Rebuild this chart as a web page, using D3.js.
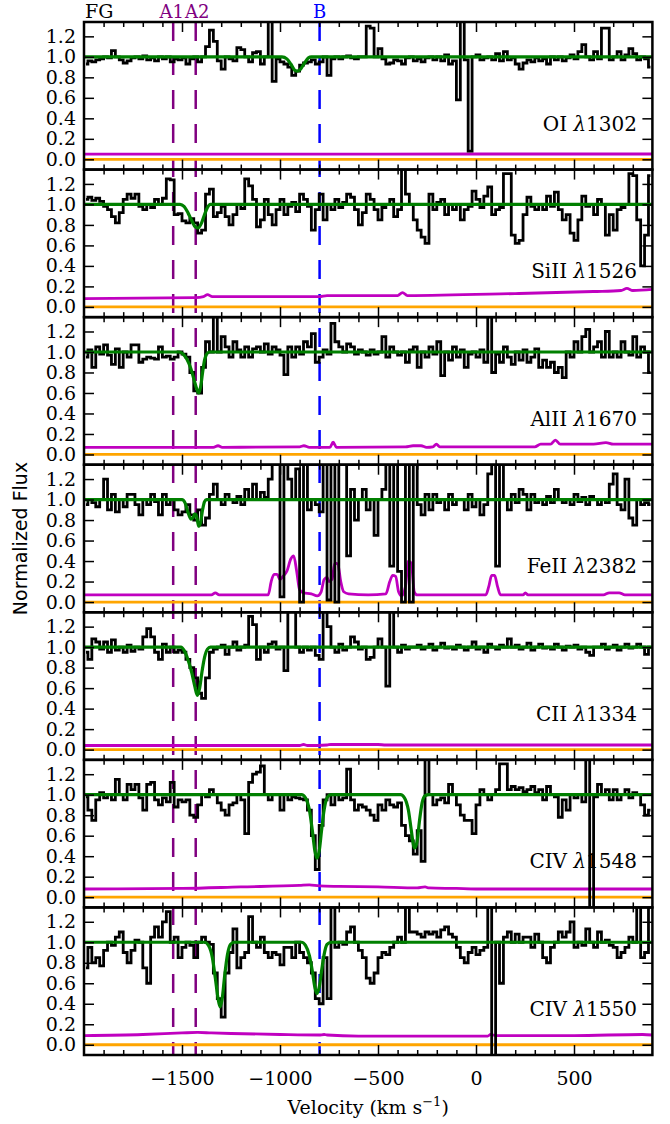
<!DOCTYPE html>
<html><head><meta charset="utf-8">
<script src="https://cdn.jsdelivr.net/npm/d3@7"></script>
<style>body{margin:0;background:#fff}svg{display:block}</style>
</head><body>
<svg id="chart" width="670" height="1124"></svg>
<script>
// ---------------- DATA ----------------
const V_START = -2000, V_STEP = 20;   // velocity grid of the binned spectra (km/s)
const ions = ["OI", "SiII", "AlII", "FeII", "CII", "CIV", "CIV"];
const waves = ["1302", "1526", "1670", "2382", "1334", "1548", "1550"];

const fluxOI = [0.93,0.96,0.95,0.97,0.98, 1.0,0.99,1.06,1.0,0.97, 0.94,0.96,0.99,1.0,0.98, 1.01,0.97,0.99,0.96,1.0,
 0.98,1.0,0.95,0.98,0.97, 0.99,0.93,0.98,1.0,0.95, 1.0,1.1,1.26,1.15,0.96, 0.88,1.0,0.98,0.96,1.09,
 1.07,1.0,0.95,1.04,1.05, 0.93,1.0,1.45,0.76,0.98, 0.95,0.93,0.9,0.82,0.86, 0.92,0.94,0.95,0.97,0.93,
 0.95,1.0,0.82,0.98,1.0, 0.98,1.0,1.01,0.99,0.98, 1.0,1.0,1.3,1.28,1.0, 1.08,0.98,0.93,0.94,0.97,
 0.96,0.93,0.99,1.0,0.96, 0.98,0.95,0.99,1.0,0.97, 1.0,0.96,1.02,0.93,0.96, 0.58,1.45,0.97,0.08,1.0,
 1.02,0.97,0.99,1.0,0.97, 1.03,0.96,1.05,0.97,0.99, 0.93,0.88,0.94,0.97,0.95, 0.99,0.96,0.98,0.93,1.0,
 0.97,1.0,0.96,0.99,1.02, 0.98,1.05,1.12,1.0,0.97, 1.05,0.98,1.28,1.28,0.97, 1.0,1.05,0.97,1.02,1.08,
 1.03,0.97,1.0,0.98,0.9];
const fluxSiII = [1.05,1.07,1.04,1.06,1.03, 0.98,0.95,0.88,0.82,0.92, 1.05,1.1,1.06,1.1,0.98, 0.95,1.0,0.97,1.05,1.0,
 1.06,1.25,1.24,0.9,0.91, 0.84,0.82,0.86,0.82,0.72, 0.75,1.1,1.15,0.88,0.92, 0.98,0.88,0.8,0.9,1.0,
 0.96,1.25,1.18,1.05,0.78, 0.85,1.05,0.9,0.8,0.95, 1.05,0.9,0.98,1.02,0.93, 1.1,1.05,0.98,0.75,0.95,
 1.1,0.85,1.0,0.95,1.05, 0.97,1.02,1.1,1.07,0.95, 0.8,0.92,1.1,1.05,0.95, 0.85,0.97,1.0,1.05,0.88,
 0.95,1.4,1.1,1.0,0.85, 0.75,0.68,0.62,1.1,0.95, 1.02,1.05,0.9,1.0,0.95, 1.0,0.85,0.95,0.98,1.13,
 1.05,0.97,1.08,1.17,0.9, 0.95,0.97,1.3,1.3,0.7, 0.62,0.65,0.9,1.07,0.98, 0.95,1.0,0.95,1.08,0.98,
 1.12,0.95,0.85,0.9,0.72, 0.65,0.85,1.08,0.98,1.0, 0.9,1.05,1.0,0.7,0.9, 0.75,0.95,0.97,1.0,1.3,
 1.28,0.85,0.4,0.7,1.28];
const fluxAlII = [0.95,1.02,0.85,1.05,0.98, 1.07,0.97,0.88,1.03,0.85, 1.0,0.95,1.07,1.07,0.9, 0.93,0.95,0.94,0.93,1.05,
 0.95,0.96,0.93,0.95,1.0, 0.98,0.95,0.8,0.62,0.6, 0.85,1.1,1.0,1.45,1.0, 1.15,1.05,0.95,1.1,1.02,
 0.95,1.05,0.95,1.03,1.05, 1.0,1.08,0.98,1.05,1.02, 0.97,0.78,1.05,0.95,1.05, 0.98,1.1,1.05,1.18,0.9,
 0.95,1.02,0.98,1.28,1.1, 1.05,1.0,1.08,1.05,0.98, 1.02,1.0,0.97,1.02,0.98, 1.0,1.15,0.95,1.05,1.0,
 0.97,1.0,0.9,1.02,1.05, 0.85,1.0,0.95,1.05,0.98, 1.1,0.77,1.0,0.92,1.05, 0.95,1.02,0.85,0.98,1.0,
 0.95,1.02,0.9,1.45,0.8, 0.98,0.9,1.05,0.95,0.88, 1.0,0.92,1.02,0.9,0.95, 1.03,0.85,0.92,0.85,0.9,
 0.8,0.85,0.75,1.0,0.95, 1.1,1.0,1.15,1.22,1.0, 1.05,1.1,0.95,1.2,0.95, 1.0,0.95,1.1,1.0,0.97,
 1.15,0.95,1.05,1.0,0.8];
const fluxFeII = [0.95,1.0,0.97,0.93,1.0, 1.2,0.9,1.05,0.88,1.0, 0.93,1.05,1.05,0.95,0.85, 1.0,0.95,1.05,0.98,0.85,
 1.05,0.95,1.0,0.9,0.85, 0.88,0.95,0.85,0.8,0.9, 0.75,0.82,1.05,1.15,1.0, 0.95,1.05,1.0,0.97,1.03,
 0.95,1.1,1.0,1.15,1.0, 1.07,1.02,1.2,1.45,1.45, 0.05,1.45,1.2,1.0,1.3, 0.0,1.45,0.9,1.0,0.95,
 0.88,1.45,0.02,1.45,0.0, 1.35,1.45,0.45,1.1,0.8, 1.0,1.1,0.9,1.0,0.65, 1.0,1.1,1.45,0.35,1.45,
 0.3,0.0,1.45,0.0,1.45, 0.95,0.85,1.05,0.9,1.05, 0.97,1.0,0.9,1.05,0.95, 1.0,1.0,0.9,1.05,0.93,
 1.0,0.85,0.95,1.25,1.45, 0.35,1.45,1.0,0.9,1.05, 0.97,1.1,1.05,0.9,1.05, 0.97,1.0,0.95,1.03,0.97,
 1.1,1.0,0.97,1.0,0.95, 1.05,0.98,1.02,0.95,1.03, 1.0,0.95,1.0,0.97,1.15, 1.25,0.95,0.9,1.2,0.82,
 0.75,1.0,0.95,0.97,0.95];
const fluxCII = [0.95,0.88,1.08,1.05,0.98, 1.05,0.95,1.07,0.97,1.0, 0.95,1.02,0.96,1.0,0.98, 1.1,1.18,1.1,0.95,0.88,
 1.03,0.95,1.0,0.95,0.97, 0.95,0.88,0.8,0.7,0.55, 0.5,0.7,0.95,0.98,1.0, 1.02,0.93,1.0,1.05,0.97,
 1.0,1.02,1.3,1.22,0.88, 1.0,0.95,1.03,1.05,0.98, 1.0,0.77,1.45,1.45,1.0, 0.95,1.0,0.97,1.0,0.92,
 0.88,1.45,1.2,1.0,0.95, 1.03,0.97,1.0,1.1,1.05, 0.98,1.0,0.88,0.9,1.0, 1.08,1.0,0.62,1.45,1.0,
 0.95,1.02,0.98,1.0,1.0, 1.02,0.98,1.0,1.03,0.97, 1.0,1.04,0.99,1.0,0.98, 1.02,1.0,0.97,1.0,1.05,
 0.98,1.0,0.95,1.03,1.0, 0.98,1.02,1.0,1.08,1.0, 1.02,0.98,1.0,1.04,0.97, 1.0,1.03,0.99,1.0,0.98,
 1.03,1.0,0.97,1.01,1.0, 1.02,0.98,1.0,0.95,0.92, 1.0,1.0,1.03,0.98,1.0, 1.02,0.97,1.0,1.03,0.99,
 1.0,1.03,1.0,0.93,1.0];
const fluxCIV1548 = [0.98,0.85,0.75,0.95,1.02, 0.97,1.0,0.95,1.15,1.0, 0.95,1.1,1.05,1.1,0.97, 0.85,1.1,1.12,0.95,0.9,
 0.97,0.93,1.12,0.88,0.95, 0.93,0.95,0.8,0.78,0.9, 1.0,0.98,1.05,1.0,0.92, 0.85,0.8,0.9,0.92,1.0,
 0.95,0.62,1.12,1.2,1.22, 1.28,1.0,0.95,1.0,1.0, 0.85,1.0,0.95,0.98,0.97, 0.96,0.95,0.85,0.6,0.27,
 0.7,0.95,1.0,0.9,1.0, 0.95,0.97,1.25,0.95,0.85, 0.9,0.88,0.85,0.8,0.75, 0.9,0.85,0.95,0.9,0.88,
 0.92,0.7,0.6,0.55,0.42, 0.65,0.35,1.45,1.0,0.9, 0.95,0.97,0.92,1.1,1.0, 0.9,0.8,0.75,0.75,0.62,
 0.9,1.05,1.0,0.95,1.0, 1.05,1.3,1.3,1.05,1.08, 1.05,1.07,1.03,1.05,1.08, 1.02,1.05,0.95,1.08,1.0,
 0.98,0.78,0.95,0.85,1.0, 0.97,1.0,0.93,1.6,-0.5, 0.98,1.1,1.0,1.05,0.95, 1.05,0.95,1.0,1.05,0.97,
 1.02,1.0,0.9,0.8,0.85];
const fluxCIV1550 = [0.75,0.95,0.8,0.85,0.77, 0.92,1.0,0.97,1.05,1.1, 0.9,0.8,0.92,1.02,1.0, 0.75,0.6,1.05,1.15,1.05,
 1.2,1.3,1.0,1.05,0.85, 0.95,1.0,0.97,0.85,1.0, 1.05,1.0,0.98,0.7,0.45, 0.27,0.7,0.9,1.13,0.75,
 0.85,0.9,1.25,1.0,0.95, 1.05,0.9,0.85,0.9,0.88, 0.78,0.95,0.95,0.85,1.0, 0.9,0.85,0.8,0.7,0.45,
 0.4,0.85,0.45,1.45,0.95, 1.0,0.98,1.1,1.15,1.0, 0.92,0.85,0.65,0.6,0.7, 0.85,0.9,0.88,0.95,1.0,
 1.05,1.0,1.45,1.1,1.1, 1.08,1.05,1.1,1.08,1.1, 1.05,1.12,1.15,1.08,1.05, 0.95,0.85,0.8,0.9,0.95,
 0.88,0.92,0.95,1.6,-0.5, 1.0,0.6,1.05,1.1,1.0, 1.08,1.0,1.05,1.05,0.95, 1.08,1.0,0.85,0.8,0.95,
 1.0,1.1,1.05,1.1,1.2, 0.95,1.0,0.97,1.13,1.0, 0.95,1.1,1.0,1.02,0.97, 0.95,0.85,0.9,0.95,1.05,
 1.0,1.45,0.85,0.9,1.35];

// fitted models: [velocity, normalized flux]
const modelOI = [[-2000,1],[-990,1],[-965,0.98],[-945,0.93],[-925,0.87],[-912,0.86],[-895,0.88],[-875,0.94],[-855,0.99],[-840,1],[900,1]];
const modelSiII = [[-2000,1],[-1510,1],[-1490,0.98],[-1470,0.92],[-1450,0.84],[-1432,0.78],[-1418,0.77],[-1400,0.82],[-1385,0.9],[-1370,0.97],[-1355,1],[900,1]];
const modelAlII = [[-2000,1],[-1515,1],[-1495,0.98],[-1475,0.93],[-1455,0.84],[-1440,0.74],[-1425,0.64],[-1415,0.6],[-1405,0.66],[-1395,0.8],[-1385,0.92],[-1370,0.99],[-1360,1],[900,1]];
const modelFeII = [[-2000,1],[-1500,1],[-1485,0.97],[-1470,0.88],[-1455,0.81],[-1445,0.82],[-1435,0.86],[-1428,0.85],[-1420,0.78],[-1414,0.74],[-1405,0.78],[-1395,0.9],[-1385,0.98],[-1375,1],[900,1]];
const modelCII = [[-2000,1],[-1505,1],[-1490,0.97],[-1470,0.88],[-1450,0.75],[-1435,0.62],[-1422,0.53],[-1410,0.6],[-1398,0.76],[-1385,0.9],[-1370,0.98],[-1355,1],[900,1]];
const modelCIV1548 = [[-2000,1],[-890,1],[-870,0.97],[-850,0.85],[-835,0.65],[-822,0.45],[-812,0.38],[-800,0.45],[-788,0.65],[-775,0.85],[-760,0.97],[-740,1],
 [-385,1],[-365,0.97],[-345,0.85],[-330,0.65],[-318,0.5],[-312,0.48],[-300,0.55],[-288,0.75],[-275,0.92],[-260,0.99],[-240,1],[900,1]];
const modelCIV1550 = [[-2000,1],[-1385,1],[-1365,0.97],[-1345,0.85],[-1330,0.65],[-1316,0.45],[-1306,0.37],[-1295,0.45],[-1282,0.68],[-1268,0.88],[-1252,0.98],[-1235,1],
 [-890,1],[-870,0.97],[-850,0.87],[-835,0.72],[-822,0.56],[-812,0.5],[-800,0.56],[-788,0.72],[-775,0.88],[-760,0.98],[-740,1],[900,1]];

// error spectra: [velocity, sigma]
const errOI = [[-2000,0.05],[-1000,0.05],[0,0.052],[900,0.052]];
const errSiII = [[-2000,0.08],[-1430,0.09],[-1390,0.1],[-1370,0.12],[-1345,0.1],[-800,0.1],[-760,0.11],[-400,0.11],[-375,0.14],[-350,0.11],[200,0.13],[600,0.15],[740,0.16],[770,0.18],[800,0.16],[900,0.17]];
const errAlII = [[-2000,0.07],[-1340,0.07],[-1316,0.085],[-1295,0.07],[-900,0.075],[-878,0.085],[-850,0.07],[-745,0.07],[-729,0.12],[-712,0.07],[-360,0.075],[-321,0.085],[-280,0.085],[-252,0.07],[-220,0.075],[-202,0.1],[-185,0.075],[300,0.075],[330,0.1],[380,0.1],[405,0.14],[430,0.1],[600,0.1],[663,0.115],[700,0.1],[900,0.1]];
const errFeII = [[-2000,0.07],[-1350,0.07],[-1330,0.09],[-1310,0.07],[-1060,0.07],[-1045,0.2],[-1030,0.27],[-1015,0.27],[-1000,0.22],[-985,0.25],[-965,0.3],[-945,0.42],[-930,0.45],[-915,0.3],[-900,0.12],[-880,0.09],[-840,0.08],[-810,0.06],[-790,0.1],[-775,0.22],[-760,0.24],[-750,0.2],[-735,0.22],[-720,0.38],[-705,0.37],[-690,0.2],[-675,0.1],[-650,0.08],[-550,0.07],[-460,0.08],[-440,0.2],[-425,0.26],[-410,0.25],[-395,0.1],[-380,0.06],[-360,0.15],[-345,0.4],[-330,0.38],[-315,0.1],[-300,0.07],[50,0.07],[65,0.15],[80,0.26],[95,0.26],[110,0.15],[125,0.07],[240,0.07],[252,0.09],[265,0.07],[650,0.07],[680,0.09],[730,0.09],[760,0.07],[900,0.07]];
const errCII = [[-2000,0.04],[-900,0.04],[-880,0.05],[-860,0.04],[-760,0.045],[-740,0.05],[-500,0.05],[-460,0.045],[900,0.045]];
const errCIV1548 = [[-2000,0.08],[-1500,0.085],[-1200,0.1],[-900,0.115],[-850,0.12],[-800,0.11],[-700,0.105],[-500,0.1],[-300,0.09],[-260,0.1],[-240,0.09],[-100,0.085],[0,0.08],[900,0.08]];
const errCIV1550 = [[-2000,0.09],[-1700,0.1],[-1500,0.115],[-1420,0.12],[-1350,0.115],[-1250,0.11],[-1000,0.1],[-800,0.095],[-775,0.1],[-760,0.095],[-600,0.085],[-300,0.085],[60,0.085],[75,0.1],[100,0.09],[500,0.09],[850,0.1],[900,0.095]];

const markerNames = ["A1", "A2", "B"];
const markerVel = [-1545, -1430, -798];
const markerColors = ["#800080", "#800080", "#0000ff"];

const xMajorTicks = [-1500, -1000, -500, 0, 500];
const xMinorTicks = [-1900,-1800,-1700,-1600,-1400,-1300,-1200,-1100,-900,-800,-700,-600,-400,-300,-200,-100,100,200,300,400,600,700,800];
const yTickValues = [0.0, 0.2, 0.4, 0.6, 0.8, 1.0, 1.2];

const fluxes = [fluxOI, fluxSiII, fluxAlII, fluxFeII, fluxCII, fluxCIV1548, fluxCIV1550];
const models = [modelOI, modelSiII, modelAlII, modelFeII, modelCII, modelCIV1548, modelCIV1550];
const errs = [errOI, errSiII, errAlII, errFeII, errCII, errCIV1548, errCIV1550];

// ---------------- LAYOUT ----------------
const L = 84, R = 652.4, T = 22, B = 1055;
const nP = fluxes.length, PH = (B - T) / nP;
const SERIF = "DejaVu Serif";
const TICK_FS = 19;
const svg = d3.select("#chart");
const x = d3.scaleLinear().domain([-2000, 900]).range([L, R]);

// marker dashed lines across all panels
const labelShift = [-1.5, 1.5, 0];
markerVel.forEach((v, i) => {
  svg.append("line").attr("x1", x(v)).attr("x2", x(v)).attr("y1", T).attr("y2", B)
    .attr("stroke", markerColors[i]).attr("stroke-width", 2.5).attr("stroke-dasharray", "19,15");
  svg.append("text").attr("x", x(v) + labelShift[i]).attr("y", 18).attr("text-anchor", "middle")
    .attr("font-family", SERIF).attr("font-size", 18).attr("fill", markerColors[i]).text(markerNames[i]);
});
svg.append("text").attr("x", L + 1).attr("y", 18).attr("font-family", SERIF).attr("font-size", 19).text("FG");

fluxes.forEach((flux, p) => {
  const top = T + p * PH, bot = top + PH;
  const y = d3.scaleLinear().domain([-0.1, 1.34]).range([bot, top]);
  const g = svg.append("g");
  const cid = "clip" + p;
  svg.append("clipPath").attr("id", cid).append("rect").attr("x", L).attr("y", top).attr("width", R - L).attr("height", PH);
  const gc = g.append("g").attr("clip-path", `url(#${cid})`);

  // zero line
  gc.append("line").attr("x1", L).attr("x2", R).attr("y1", y(0)).attr("y2", y(0))
    .attr("stroke", "#ffa500").attr("stroke-width", 2.8);
  // error spectrum
  gc.append("path").datum(errs[p]).attr("fill", "none").attr("stroke", "#c000c0").attr("stroke-width", 2.8)
    .attr("d", d3.line().x(d => x(d[0])).y(d => y(d[1])).curve(d3.curveMonotoneX));
  // data (steps)
  const pts = flux.map((f, i) => [V_START + (i + 0.5) * V_STEP, f]);
  gc.append("path").datum(pts).attr("fill", "none").attr("stroke", "#000").attr("stroke-width", 2.8)
    .attr("stroke-linejoin", "miter")
    .attr("d", d3.line().x(d => x(d[0])).y(d => y(d[1])).curve(d3.curveStep));
  // model
  gc.append("path").datum(models[p]).attr("fill", "none").attr("stroke", "#008000").attr("stroke-width", 3.2)
    .attr("d", d3.line().x(d => x(d[0])).y(d => y(d[1])).curve(d3.curveMonotoneX));

  // label
  const lab = g.append("text").attr("x", 637).attr("y", y(0.28)).attr("text-anchor", "end")
    .attr("font-family", SERIF).attr("font-size", 20);
  lab.append("tspan").text(ions[p] + " ");
  lab.append("tspan").attr("font-style", "italic").text("λ");
  lab.append("tspan").text(waves[p]);

  // axes (inward ticks)
  const styleAxis = sel => { sel.select(".domain").remove(); sel.selectAll(".tick line").attr("stroke", "#000").attr("stroke-width", 1.5); };
  const last = p === nP - 1;
  g.append("g").attr("transform", `translate(0,${bot})`)
    .call(d3.axisBottom(x).tickValues(xMajorTicks).tickSizeInner(-10).tickSizeOuter(0).tickPadding(0)
      .tickFormat(last ? d3.format("") : () => ""))
    .call(styleAxis)
    .call(s => s.selectAll("text").attr("y", 30).attr("dy", 0).attr("font-family", SERIF).attr("font-size", TICK_FS).attr("fill", "#000"));
  g.append("g").attr("transform", `translate(0,${bot})`)
    .call(d3.axisBottom(x).tickValues(xMinorTicks).tickSizeInner(-5).tickSizeOuter(0).tickFormat(() => "")).call(styleAxis);
  g.append("g").attr("transform", `translate(0,${top})`)
    .call(d3.axisTop(x).tickValues(xMajorTicks).tickSizeInner(-10).tickSizeOuter(0).tickFormat(() => "")).call(styleAxis);
  g.append("g").attr("transform", `translate(0,${top})`)
    .call(d3.axisTop(x).tickValues(xMinorTicks).tickSizeInner(-5).tickSizeOuter(0).tickFormat(() => "")).call(styleAxis);
  g.append("g").attr("transform", `translate(${L},0)`)
    .call(d3.axisLeft(y).tickValues(yTickValues).tickSizeInner(-10).tickSizeOuter(0).tickPadding(8).tickFormat(d3.format(".1f")))
    .call(styleAxis)
    .call(s => s.selectAll("text").attr("font-family", SERIF).attr("font-size", TICK_FS).attr("fill", "#000"));
  g.append("g").attr("transform", `translate(${R},0)`)
    .call(d3.axisRight(y).tickValues(yTickValues).tickSizeInner(-10).tickSizeOuter(0).tickFormat(() => "")).call(styleAxis);

  // frame
  g.append("rect").attr("x", L).attr("y", top).attr("width", R - L).attr("height", PH)
    .attr("fill", "none").attr("stroke", "#000").attr("stroke-width", 2.5);
});

// axis titles
svg.append("text").attr("transform", `translate(27,${(T + B) / 2}) rotate(-90)`).attr("text-anchor", "middle")
  .attr("font-family", "DejaVu Sans").attr("font-size", 19).text("Normalized Flux");
const xl = svg.append("text").attr("x", (L + R) / 2).attr("y", 1114).attr("text-anchor", "middle")
  .attr("font-family", SERIF).attr("font-size", 19);
xl.append("tspan").text("Velocity (km s");
xl.append("tspan").attr("font-size", 13).attr("dy", -8).text("−1");
xl.append("tspan").attr("dy", 8).text(")");
</script>
</body></html>
